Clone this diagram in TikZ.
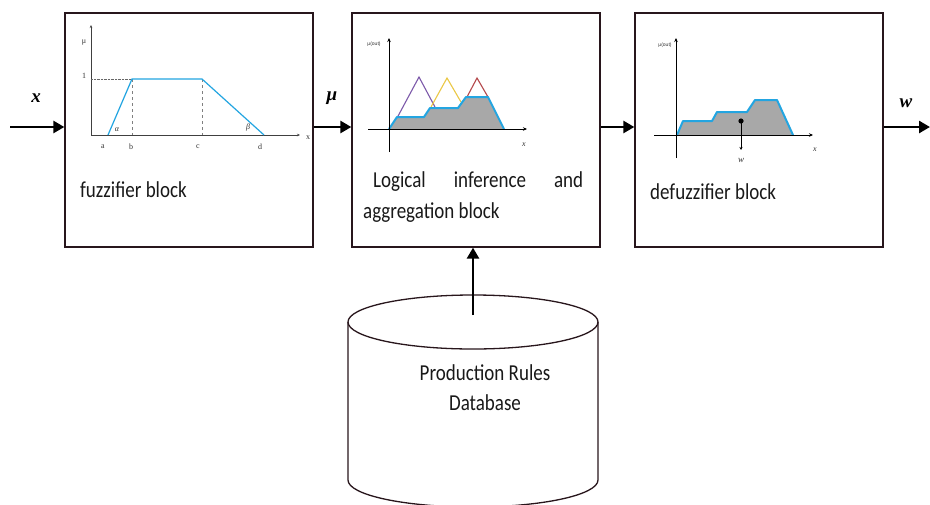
\documentclass[tikz,border=0pt]{standalone}
\usepackage{graphicx}
\usepackage{fontspec}
\setmainfont{Carlito}
\newfontfamily\seriffont{Liberation Serif}
\newfontfamily\smallsans{Liberation Sans}
\usetikzlibrary{arrows.meta}
\definecolor{frame}{RGB}{40,22,28}
\definecolor{curve}{RGB}{35,165,225}
\definecolor{fillgray}{RGB}{168,168,168}
\definecolor{tripurple}{RGB}{125,90,170}
\definecolor{triyellow}{RGB}{235,200,70}
\definecolor{trired}{RGB}{180,72,75}
\newcommand{\talltext}[1]{\scalebox{1}[1.2]{#1}}
\begin{document}
\begin{tikzpicture}[x=1pt,y=-1pt,
  block/.style={draw=frame,line width=1.3pt,minimum width=248pt,minimum height=234pt,inner sep=0pt},
  flow/.style={line width=2.6pt,-{Triangle[length=11pt,width=12pt]}},
  axis/.style={line width=0.5pt,-{Stealth[length=3pt,width=2.5pt]},black!75},
  bigaxis/.style={line width=1pt,-{Stealth[length=4pt,width=3.5pt]}},
  mf/.style={line width=1.2pt,curve},
  agg/.style={line width=2pt,curve,line join=round},
  tiny/.style={font=\seriffont\fontsize{8}{9}\selectfont,text=black!80,inner sep=0pt},
  blocktext/.style={font=\fontsize{19}{22}\selectfont,inner sep=0pt,text=black!90},
  sym/.style={font=\seriffont\bfseries\itshape\fontsize{19}{22}\selectfont,inner sep=0pt}]
\useasboundingbox (0,0) rectangle (930,504);
\fill[white] (0,0) rectangle (930,504);

% blocks
\node[block] (b1) at (189,130) {};
\node[block] (b2) at (476,130) {};
\node[block] (b3) at (759,130) {};

% flow arrows
\coordinate (in) at (10,127);
\coordinate (out) at (930,127);
\draw[flow] (in) -- (b1.west |- in);
\draw[flow] (b1.east |- in) -- (b2.west |- in);
\draw[flow] (b2.east |- in) -- (b3.west |- in);
\draw[flow] (b3.east |- in) -- (out);
\node[sym] (lx) at (36,98) {x};
\node[sym] (lmu) at (332,98) {μ};
\node[sym] (lw) at (906,103) {w};

% ---------- fuzzifier plot
\draw[axis] (91,135) -- (91,25);
\draw[axis] (91,135) -- (300,135);
\draw[densely dotted,black!60,line width=0.4pt] (91,79) -- (132,79);
\draw[dashed,black!50,line width=0.4pt] (132,79) -- (132,135);
\draw[dashed,black!50,line width=0.4pt] (202,79) -- (202,135);
\draw[mf] (108,135) -- (132,79) -- (202,79) -- (264,135);
\node[tiny] (fmu) at (84,43) {μ};
\node[tiny] (fone) at (84,76) {1};
\node[tiny] (fxl) at (308,138) {x};
\node[tiny] (fa) at (103,147) {a};
\node[tiny] (fb) at (131,147) {b};
\node[tiny] (fc) at (198,147) {c};
\node[tiny] (fd) at (260,147) {d};
\node[tiny] (falpha) at (117,130) {\itshape α};
\node[tiny] (fbeta) at (248,128) {\itshape β};
\node[blocktext,anchor=west] (t1) at (80,190) {\talltext{fuzzifier block}};

% ---------- inference plot
\fill[fillgray] (389,129) -- (397,117) -- (424,117) -- (430,108) -- (458,108) -- (466,97) -- (488,97) -- (504,129) -- cycle;
\draw[line width=1.1pt,tripurple] (397,118) -- (419,77) -- (435,107);
\draw[line width=1.1pt,triyellow] (431,107) -- (447,78) -- (461,102);
\draw[line width=1.1pt,trired] (467,97) -- (477,78) -- (488,97);
\draw[agg] (389,129) -- (397,117) -- (424,117) -- (430,108) -- (458,108) -- (466,97) -- (488,97) -- (504,129);
\draw[bigaxis] (389,152) -- (389,38);
\draw[bigaxis] (368,129) -- (527,129);
\node[tiny,font=\smallsans\fontsize{5}{6}\selectfont] (imu) at (374,44) {μ(out)};
\node[tiny,font=\seriffont\itshape\fontsize{8}{9}\selectfont] (ix) at (524,145) {x};
\node[blocktext,anchor=west] (t2a) at (373,182) {\talltext{\makebox[210pt][s]{Logical inference and}}};
\node[blocktext,anchor=west] (t2b) at (363,213) {\talltext{aggregation block}};

% ---------- defuzzifier plot
\fill[fillgray] (677,135) -- (683,121) -- (712,121) -- (717,112) -- (747,112) -- (755,100) -- (777,100) -- (793,135) -- cycle;
\draw[agg] (677,135) -- (683,121) -- (712,121) -- (717,112) -- (747,112) -- (755,100) -- (777,100) -- (793,135);
\draw[bigaxis] (676,158) -- (676,38);
\draw[bigaxis] (654,135) -- (813,135);
\coordinate (cog) at (741,121);
\coordinate (cogend) at (741,150);
\draw[line width=0.8pt,-{Stealth[length=3pt,width=3pt]}] (cog) -- (cogend);
\fill (cog) circle (2.6pt);
\node[tiny,font=\smallsans\fontsize{5}{6}\selectfont] (dmu) at (665,45) {μ(out)};
\node[tiny,font=\seriffont\itshape\fontsize{8}{9}\selectfont] (dx) at (815,150) {x};
\node[tiny,font=\seriffont\itshape\fontsize{9}{10}\selectfont] (dw) at (741,160) {w};
\node[blocktext,anchor=west] (t3) at (650,192) {\talltext{defuzzifier block}};

% ---------- database cylinder
\begin{scope}
\clip (0,0) rectangle (930,504);
\fill[white] (348,322) -- (348,480) arc[start angle=180,end angle=0,x radius=125,y radius=27] -- (598,322) -- cycle;
\draw[frame,line width=1.3pt] (348,322) -- (348,480) arc[start angle=180,end angle=0,x radius=125,y radius=27] -- (598,322);
\draw[frame,line width=1.3pt] (473,322) ellipse[x radius=125,y radius=27];
\end{scope}
\coordinate (dbtop) at (473,315);
\draw[flow] (dbtop) -- (b2.south -| dbtop);
\node[blocktext] (db1) at (485,373) {\talltext{Production Rules}};
\node[blocktext] (db2) at (485,403) {\talltext{Database}};
\end{tikzpicture}
\end{document}
